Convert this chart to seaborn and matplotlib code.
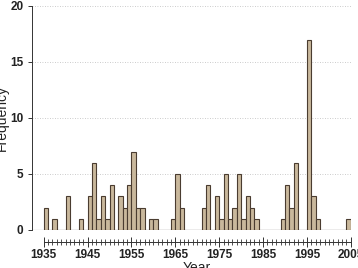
import pandas as pd
import matplotlib
matplotlib.use("Agg")
import matplotlib.pyplot as plt
import seaborn as sns
from matplotlib.ticker import FixedLocator

# 每年的频数
years = [1935, 1937, 1940, 1943, 1945, 1946, 1947, 1948, 1949, 1950,
         1952, 1953, 1954, 1955, 1956, 1957, 1959, 1960, 1964, 1965,
         1966, 1971, 1972, 1974, 1975, 1976, 1977, 1978, 1979, 1980,
         1981, 1982, 1983, 1989, 1990, 1991, 1992, 1995, 1996, 1997, 2004]
counts = [2, 1, 3, 1, 3, 6, 1, 3, 1, 4,
          3, 2, 4, 7, 2, 2, 1, 1, 1, 5,
          2, 2, 4, 3, 1, 5, 1, 2, 5, 1,
          3, 2, 1, 1, 4, 2, 6, 17, 3, 1, 1]
yticks = [0, 5, 10, 15, 20]
xticks = [1935, 1945, 1955, 1965, 1975, 1985, 1995, 2005]

data = pd.DataFrame({'Year': years, 'Frequency': counts})

sns.set_style("white")
plt.rcParams['font.family'] = ['Liberation Sans', 'DejaVu Sans']

fig = plt.figure(figsize=(3.58, 2.68), dpi=100)
ax = fig.add_axes([0.089, 0.142, 0.891, 0.836])

sns.histplot(data=data, x='Year', weights='Frequency', binwidth=1, binrange=(1935, 2005),
             color='#c9b89c', edgecolor='#4a3c30', linewidth=0.8, alpha=1, ax=ax)

# 0 基线
ax.axhline(0, color='#666666', linewidth=0.8, zorder=0.5)

ax.set_xlim(1932.3, 2005)
ax.set_ylim(0, 20)
ax.set_yticks(yticks)
ax.set_xticks(xticks)
ax.xaxis.set_minor_locator(FixedLocator(range(1935, 2006)))

for y in yticks[1:]:
    ax.axhline(y, color='#bbbbbb', linewidth=0.6, linestyle=(0, (1, 2)), zorder=0)

for s in ['top', 'right']:
    ax.spines[s].set_visible(False)
ax.spines['left'].set_color('#333333')
ax.spines['left'].set_linewidth(0.7)
ax.spines['bottom'].set_position(('outward', 9))
ax.spines['bottom'].set_bounds(1935, 2005)
ax.spines['bottom'].set_color('#333333')
ax.spines['bottom'].set_linewidth(0.7)

ax.tick_params(axis='y', left=True, direction='out', length=3, width=0.7, color='#333333',
               labelsize=8.5, pad=3)
ax.tick_params(axis='x', which='major', bottom=True, direction='inout', length=7, width=0.7,
               color='#333333', labelsize=8.5, pad=1)
ax.tick_params(axis='x', which='minor', bottom=True, direction='inout', length=4, width=0.6,
               color='#333333')
for lab in ax.get_xticklabels() + ax.get_yticklabels():
    lab.set_fontweight('bold')
    lab.set_color('#222222')

ax.set_xlabel('Year', fontsize=10, color='#222222')
ax.xaxis.set_label_coords((1935 - 1932.3 + 35) / (2005 - 1932.3), -0.138)
ax.set_ylabel('Frequency', fontsize=10, color='#222222')
ax.yaxis.set_label_coords(-0.072, 0.5)

fig.savefig('out.png', dpi=100)
